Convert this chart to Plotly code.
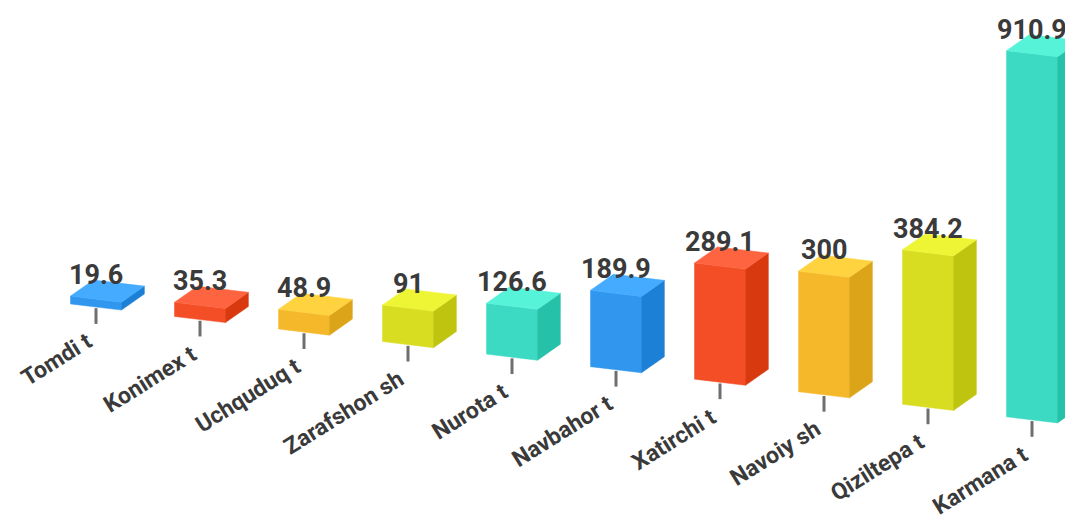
import plotly.graph_objects as go

categories = ["Tomdi t", "Konimex t", "Uchquduq t", "Zarafshon sh", "Nurota t",
              "Navbahor t", "Xatirchi t", "Navoiy sh", "Qiziltepa t", "Karmana t"]
values = [19.6, 35.3, 48.9, 91, 126.6, 189.9, 289.1, 300, 384.2, 910.9]
value_labels = ["19.6", "35.3", "48.9", "91", "126.6", "189.9", "289.1", "300", "384.2", "910.9"]

palette_front = ["#3197ee", "#f44e27", "#f6b82b", "#d8dd22", "#3cdac2"]
palette_side = ["#1b80d6", "#d9390f", "#dca419", "#bfc40e", "#26c1a9"]
palette_top = ["#45abff", "#ff6441", "#ffd23f", "#eef534", "#56f3d9"]

# geometry (category units / value units)
TILT = 31.2      # baseline drop per category step (value units)
HALF = 0.245     # half width of front face (category units)
DX = 0.22        # depth offset x (category units)
DY = 40.0        # depth offset y (value units)
TICK = 42.0      # tick length (value units)

PAGE_OFF = 8     # default body margin of the html page
W, H = 1073 - PAGE_OFF, 527 - 2 * PAGE_OFF


def base(x):
    return -TILT * x


fig = go.Figure()
for i, (cat, v) in enumerate(zip(categories, values)):
    c = i % 5
    xl, xr = i - HALF, i + HALF
    bl, br = base(xl), base(xr)
    tl, tr = bl + v, br + v
    # front
    fig.add_trace(go.Scatter(
        x=[xl, xr, xr, xl, xl], y=[bl, br, tr, tl, bl], fill="toself",
        mode="lines", line=dict(color=palette_front[c], width=0.5),
        fillcolor=palette_front[c], hoverinfo="skip", showlegend=False))
    # side
    fig.add_trace(go.Scatter(
        x=[xr, xr + DX, xr + DX, xr, xr], y=[br, br + DY, tr + DY, tr, br], fill="toself",
        mode="lines", line=dict(color=palette_side[c], width=0.5),
        fillcolor=palette_side[c], hoverinfo="skip", showlegend=False))
    # top
    fig.add_trace(go.Scatter(
        x=[xl, xr, xr + DX, xl + DX, xl], y=[tl, tr, tr + DY, tl + DY, tl], fill="toself",
        mode="lines", line=dict(color=palette_top[c], width=0.5),
        fillcolor=palette_top[c], hoverinfo="skip", showlegend=False))
    # tick
    fig.add_trace(go.Scatter(
        x=[i, i], y=[base(i) - 3, base(i) - TICK], mode="lines",
        line=dict(color="#6e6e6e", width=3), hoverinfo="skip", showlegend=False))
    # value label
    fig.add_annotation(x=i, y=base(i) + v, text=value_labels[i], showarrow=False,
                       xanchor="center", yanchor="middle", yshift=24,
                       font=dict(family="Roboto", size=27, color="#3a3a3a", weight=700))
    # category label
    fig.add_annotation(x=i, y=base(i) - TICK, text=cat, showarrow=False,
                       xanchor="right", yanchor="top", textangle=-32, yshift=-1, xshift=4,
                       font=dict(family="Roboto", size=23, color="#3a3a3a", weight=700))

fig.update_layout(
    width=W, height=H,
    margin=dict(l=0, r=0, t=0, b=0),
    paper_bgcolor="white", plot_bgcolor="white",
    xaxis=dict(range=[-(96 - PAGE_OFF) / 104, (W + PAGE_OFF - 96) / 104],
               visible=False, fixedrange=True),
    yaxis=dict(range=[-(H + PAGE_OFF - 307) / 0.402, (307 - PAGE_OFF) / 0.402],
               visible=False, fixedrange=True),
    showlegend=False,
)

fig.write_html("out.html")
